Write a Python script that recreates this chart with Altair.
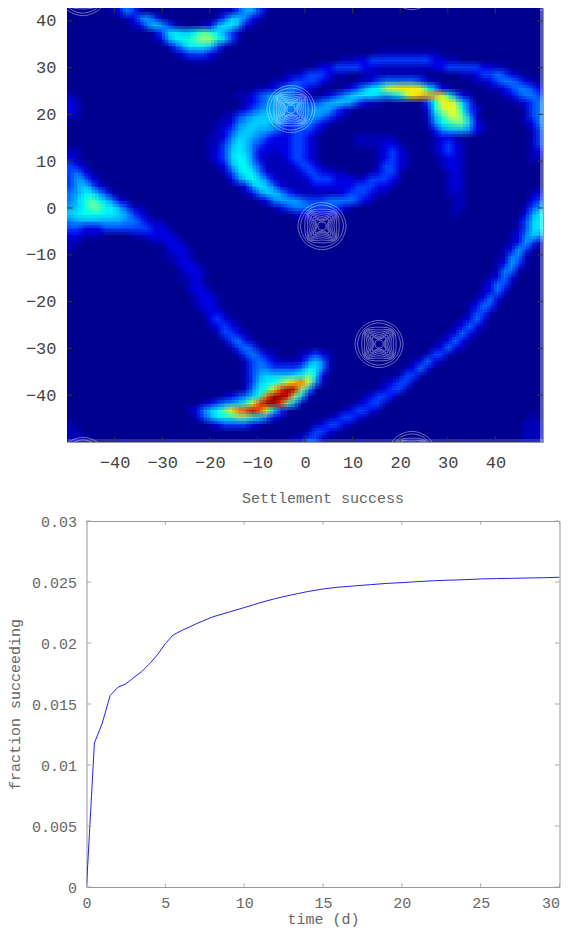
import altair as alt
import pandas as pd

# ---- heat map levels: row -> [(first column, level characters)]
N_COLS, N_ROWS = 68, 62
LEVELS_PER_UNIT = 20
HEAT = {
0: [(6,"12431"),(22,"1135531")],
1: [(8,"124531"),(21,"1366421")],
2: [(9,"1246531"),(19,"12577521")],
3: [(12,"1367668a97531")],
4: [(12,"125789abb9631")],
5: [(14,"135777631")],
6: [(15,"1233321"),(44,"111111111")],
7: [(17,"1111"),(39,"11223333333332211")],
8: [(35,"1223333221111111122333332211")],
9: [(31,"112333211"),(42,"111111111"),(56,"112334321")],
10: [(29,"112333321"),(41,"112344444321"),(58,"112344321")],
11: [(27,"112344321"),(39,"123578bcdddc9521"),(60,"11234432")],
12: [(0,"1"),(24,"11234554321"),(36,"123467776567bdeffd9421"),(62,"123443")],
13: [(0,"21"),(25,"12345555433456653211"),(51,"38cdb63"),(64,"1234")],
14: [(0,"21"),(24,"12345554444555321"),(51,"27bcc832"),(65,"134")],
15: [(0,"11"),(22,"113456665433454321"),(51,"159bca51"),(65,"134")],
16: [(21,"11245666543344321"),(51,"1479aa621"),(65,"124")],
17: [(21,"1235665543233321"),(52,"24555421"),(66,"13")],
18: [(20,"1124665432223321"),(41,"111111"),(52,"1221"),(66,"13")],
19: [(20,"1135764322223321"),(41,"1111221"),(52,"12321"),(66,"13")],
20: [(0,"11"),(20,"1236764221223321"),(44,"12321"),(52,"12321"),(66,"12")],
21: [(0,"21"),(20,"1236874211123321"),(44,"12321"),(53,"1221"),(66,"11")],
22: [(0,"321"),(21,"1257853111123321"),(44,"13321"),(53,"1221")],
23: [(0,"3421"),(22,"136874211112332211"),(43,"12331"),(54,"121")],
24: [(0,"35421"),(23,"2468642111123332221233321"),(54,"121")],
25: [(0,"356421"),(24,"12576421111222222333221"),(54,"121")],
26: [(0,"4577531"),(25,"124665321111112333211"),(54,"111"),(66,"12")],
27: [(0,"468a86421"),(27,"12455543334444321"),(55,"11"),(66,"23")],
28: [(0,"568aa875311"),(29,"123444333321"),(55,"11"),(65,"135")],
29: [(0,"678887765321"),(32,"1221111"),(55,"1"),(65,"257")],
30: [(0,"45555555443211"),(64,"1367")],
31: [(0,"332223333333221"),(64,"1367")],
32: [(0,"22111"),(9,"1122221"),(63,"12465")],
33: [(0,"11"),(12,"11221"),(63,"12531")],
34: [(0,"1"),(14,"1221"),(62,"12531")],
35: [(14,"1121"),(62,"1441")],
36: [(15,"1221"),(61,"12531")],
37: [(16,"1221"),(61,"1441")],
38: [(16,"1121"),(60,"1242")],
39: [(17,"121"),(59,"12431")],
40: [(17,"1221"),(59,"1242")],
41: [(18,"1221"),(58,"1242")],
42: [(18,"1221"),(57,"12431")],
43: [(19,"1221"),(57,"1331")],
44: [(20,"2321"),(56,"1242")],
45: [(20,"12321"),(55,"12421")],
46: [(21,"13321"),(54,"12421")],
47: [(22,"13421"),(53,"12421")],
48: [(23,"13431"),(52,"12421")],
49: [(24,"134321"),(33,"12321"),(51,"1331")],
50: [(25,"1343211124641"),(49,"12421")],
51: [(25,"1344333347741"),(48,"1242")],
52: [(25,"135666678a72"),(47,"1331")],
53: [(25,"13678acegc51"),(45,"12331")],
54: [(25,"1479dhkjb51"),(44,"12331")],
55: [(22,"123469gkkib61"),(42,"12332")],
56: [(19,"1234569chkkha51"),(41,"12331")],
57: [(17,"12468adghjhc731"),(39,"123321")],
58: [(18,"135789aa96421"),(37,"123321"),(66,"1")],
59: [(0,"1"),(20,"12333321"),(35,"123321"),(65,"111")],
60: [(0,"11"),(34,"13321"),(65,"111")],
61: [(0,"111"),(32,"11331"),(65,"111")],
}
JET_STOPS = [0, 0.125, 0.375, 0.625, 0.875, 1]
JET_COLORS = ["#00008f", "#0000ff", "#00ffff", "#ffff00", "#ff0000", "#8f0000"]
SOFT_OFFSETS = [-3, 0, 3]

# ---- island contours
ISLAND_X = [-2.94, 3.57, 15.55, -46.64, 22.48, 52.5, -46.64, 22.48]
ISLAND_Y = [21.15, -3.85, -29.06, 46.15, 47.44, 47.44, -54.06, -52.78]
RING_AXIS = [5.05, 4.5, 3.6, 3.0, 2.5, 2.05, 1.65, 1.3, 1.05, 0.85]
RING_DIAG = [5.05, 4.5, 4.2, 4.0, 3.8, 3.5, 3.1, 2.6, 2.0, 0.95]
RING_DIRS = [(1,0),(.707,.707),(0,1),(-.707,.707),(-1,0),(-.707,-.707),(0,-1),(.707,-.707)]

# ---- axes
X_MIN, X_MAX, Y_MIN, Y_MAX = -50, 50, -50, 42.74
MAP_TICKS_X = [-40, -30, -20, -10, 0, 10, 20, 30, 40]
MAP_TICKS_Y = [-40, -30, -20, -10, 0, 10, 20, 30, 40]
TIME_TICKS = [0, 5, 10, 15, 20, 25, 30]
FRAC_TICKS = [0, 0.005, 0.01, 0.015, 0.02, 0.025, 0.03]

# ---- settlement curve
TIME = [0, .5, 1, 1.5, 2, 2.5, 3, 3.5, 4, 4.5, 5, 5.5, 6, 7, 8, 9, 10, 11, 12, 13, 14, 15,
        16, 17, 18, 19, 20, 21, 22, 23, 24, 25, 26, 27, 28, 29, 30]
FRACTION = [0, .01179, .01343, .0157, .01638, .01665, .01717, .01766, .0183, .01903, .01995,
            .02066, .0210, .0216, .02214, .02252, .0229, .0233, .02365, .02394, .02421, .02443,
            .02458, .02468, .02478, .02488, .02495, .02503, .0251, .02515, .02519, .02525,
            .02528, .0253, .02533, .02535, .02539]

# ---- tables
dx = (X_MAX - X_MIN) / N_COLS
dy = (Y_MAX - Y_MIN) / N_ROWS
grid = [[0] * N_COLS for _ in range(N_ROWS)]
for r in range(N_ROWS):
    for start, chars in HEAT.get(r, []):
        for k, ch in enumerate(chars):
            grid[r][start + k] = int(ch, 36) / LEVELS_PER_UNIT
cells = []
for r in range(N_ROWS):
    for c in range(N_COLS):
        cells.append(dict(x=X_MIN + c * dx, x2=X_MIN + (c + 1) * dx,
                          y=Y_MAX - r * dy, y2=Y_MAX - (r + 1) * dy, v=grid[r][c]))
heat_df = pd.DataFrame(cells)

rings = []
for i, (cx, cy) in enumerate(zip(ISLAND_X, ISLAND_Y)):
    for j, (ra, rd) in enumerate(zip(RING_AXIS, RING_DIAG)):
        for k, (ux, uy) in enumerate(RING_DIRS):
            rad = ra if k % 2 == 0 else rd
            rings.append(dict(x=cx + rad * ux, y=cy + rad * uy, ring=f"{i}-{j}", k=k))
ring_df = pd.DataFrame(rings)

map_x = alt.Scale(domain=[X_MIN, X_MAX], nice=False, zero=False)
map_y = alt.Scale(domain=[Y_MIN, Y_MAX], nice=False, zero=False)
FONT = "Liberation Mono"

MAP_AXIS_X = alt.Axis(values=MAP_TICKS_X, ticks=False, grid=False, domain=False, title=None,
                      labelFont=FONT, labelFontSize=17, labelColor="#444444", labelPadding=12,
                      labelFlush=False)
MAP_AXIS_Y = alt.Axis(values=MAP_TICKS_Y, ticks=False, grid=False, domain=False, title=None,
                      labelFont=FONT, labelFontSize=17, labelColor="#444444", labelPadding=11,
                      labelFlush=False)
TIME_AXIS = alt.Axis(values=TIME_TICKS, ticks=False, grid=False, domain=False, title="time (d)",
                     titleFont=FONT, titleFontSize=15, titleFontWeight="normal", titleColor="#666666",
                     titlePadding=1, labelFont=FONT, labelFontSize=15, labelColor="#666666",
                     labelPadding=8, labelFlush=False,
                     labelAlign=alt.expr("datum.value == 30 ? 'right' : 'center'"))
FRAC_AXIS = alt.Axis(values=FRAC_TICKS, format="~g", ticks=False, grid=False, domain=False,
                     title="fraction succeeding", titleFont=FONT, titleFontSize=15,
                     titleFontWeight="normal", titleColor="#666666", titleX=-72, titleBaseline="middle",
                     labelFont=FONT, labelFontSize=15, labelColor="#666666", labelPadding=10,
                     labelFlush=False)


def tick_table(values, lo, hi, inner, axis):
    rows = []
    for v in values:
        if axis == "x":
            rows.append(dict(a=v, a2=v, b=lo, b2=lo + inner))
            rows.append(dict(a=v, a2=v, b=hi, b2=hi - inner))
        else:
            rows.append(dict(a=lo, a2=lo + inner, b=v, b2=v))
            rows.append(dict(a=hi, a2=hi - inner, b=v, b2=v))
    return pd.DataFrame(rows)


def heat_layer(ox, oy, alpha):
    return alt.Chart(heat_df).mark_rect(
        xOffset=ox, x2Offset=ox, yOffset=oy, y2Offset=oy, opacity=alpha, clip=True
    ).encode(
        x=alt.X("x:Q", scale=map_x, axis=MAP_AXIS_X),
        x2="x2:Q",
        y=alt.Y("y:Q", scale=map_y, axis=MAP_AXIS_Y),
        y2="y2:Q",
        color=alt.Color("v:Q", legend=None,
                        scale=alt.Scale(domain=JET_STOPS, range=JET_COLORS, clamp=True)),
    )


heat_layers = []
for ox in SOFT_OFFSETS:
    for oy in SOFT_OFFSETS:
        n = len(heat_layers) + 1
        heat_layers.append(heat_layer(ox, oy, 1 / n))

ring_marks = alt.Chart(ring_df).mark_line(
    interpolate="cardinal-closed", color="#ffffff", opacity=0.6, strokeWidth=0.7, clip=True
).encode(
    x=alt.X("x:Q", scale=map_x, axis=MAP_AXIS_X),
    y=alt.Y("y:Q", scale=map_y, axis=MAP_AXIS_Y),
    detail="ring:N",
    order="k:Q",
)


def rules(df, xs, ys, ax, ay, color):
    return alt.Chart(df).mark_rule(color=color, strokeWidth=1).encode(
        x=alt.X("a:Q", scale=xs, axis=ax), x2="a2:Q",
        y=alt.Y("b:Q", scale=ys, axis=ay), y2="b2:Q",
    )


top = alt.layer(
    *heat_layers, ring_marks,
    rules(tick_table(MAP_TICKS_X, Y_MIN, Y_MAX, 1.2, "x"), map_x, map_y, MAP_AXIS_X, MAP_AXIS_Y, "#333333"),
    rules(tick_table(MAP_TICKS_Y, X_MIN, X_MAX, 1.2, "y"), map_x, map_y, MAP_AXIS_X, MAP_AXIS_Y, "#333333"),
).properties(width=476, height=434)

time_x = alt.Scale(domain=[0, 30], nice=False, zero=False)
frac_y = alt.Scale(domain=[0, 0.03], nice=False, zero=False)
curve = alt.Chart(pd.DataFrame(dict(t=TIME, f=FRACTION))).mark_line(
    color="#2222ee", strokeWidth=1, clip=True
).encode(
    x=alt.X("t:Q", scale=time_x, axis=TIME_AXIS),
    y=alt.Y("f:Q", scale=frac_y, axis=FRAC_AXIS),
)
bottom = alt.layer(
    curve,
    rules(tick_table(TIME_TICKS, 0, 0.03, 0.0003, "x"), time_x, frac_y, TIME_AXIS, FRAC_AXIS, "#aaaaaa"),
    rules(tick_table(FRAC_TICKS, 0, 30, 0.3, "y"), time_x, frac_y, TIME_AXIS, FRAC_AXIS, "#aaaaaa"),
).properties(
    width=473, height=366,
    title=alt.TitleParams("Settlement success", font=FONT, fontSize=15, fontWeight="normal",
                          color="#666666", anchor="middle", offset=8),
)

spacer = alt.Chart(pd.DataFrame(dict(a=[0]))).mark_point(opacity=0).encode(
    x=alt.X("a:Q", axis=None), y=alt.Y("a:Q", axis=None)
).properties(width=1, height=1, view=alt.ViewBackground(stroke=None))

chart = alt.vconcat(top, alt.hconcat(spacer, bottom, spacing=-64.5), spacing=19).properties(
    padding={"left": -1, "top": -1, "right": 0, "bottom": 0}, background="white"
).configure_view(stroke="#999999", strokeWidth=1)

chart.save("out.html", embed_options={"renderer": "svg", "actions": False})
